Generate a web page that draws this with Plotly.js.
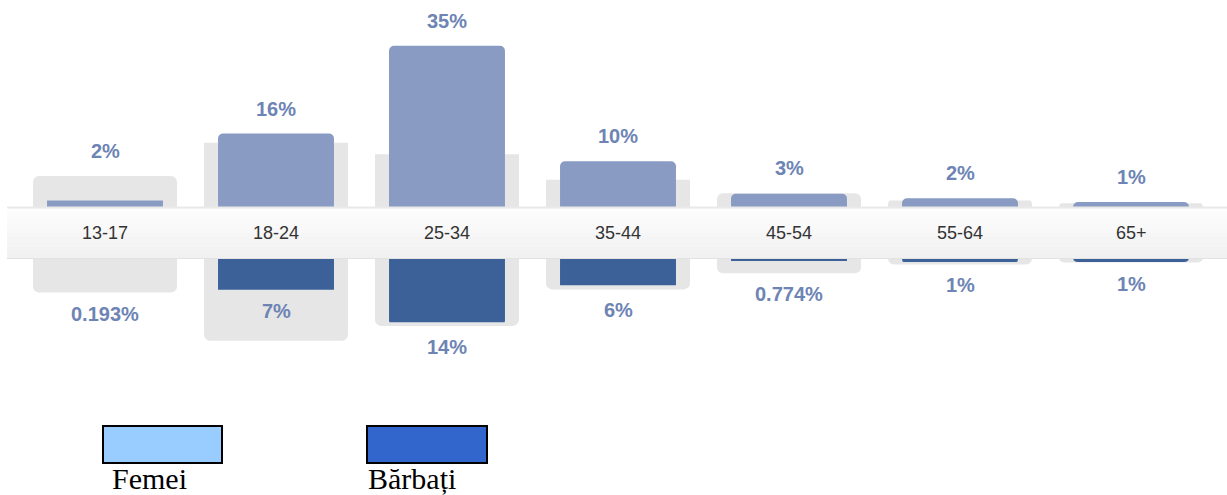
<!DOCTYPE html>
<html>
<head>
<meta charset="utf-8">
<script src="https://cdn.plot.ly/plotly-3.0.1.min.js"></script>
<style>
  html, body { margin: 0; padding: 0; background: #ffffff; }
  #chart { width: 1227px; height: 495px; }
</style>
</head>
<body>
<div id="chart"></div>
<script>
// ---- data ----
const categories = ['13-17', '18-24', '25-34', '35-44', '45-54', '55-64', '65+'];
const femei = [1.5, 16, 35, 10, 3, 2, 1.2];              // women, % (bars above the band)
const barbati = [0.193, 7, 14, 6, 0.774, 1, 1];           // men, % (bars below the band)
const femeiFundal = [6.8, 14.0, 11.5, 6.0, 3.1, 1.5, 0.9]; // grey background boxes, top side
const barbatiFundal = [7.6, 18.0, 14.8, 6.9, 3.4, 1.5, 1.1]; // grey background boxes, bottom side
const legendNames = ['Femei', 'Bărbați'];

// ---- geometry / style ----
const W = 1227, H = 495;
const PX_PER_PCT = 4.62;
const FEM_ZERO_PX = 207.5;
const MALE_ZERO_PX = 257.5;
const BAND_TOP = 207, BAND_BOT = 258.5, BAND_LEFT = 7;
const px2py = p => 1 - p / H;
const px2px = p => p / W;

const colFem = '#8a9bc3';
const colMale = '#3b6198';
const colGrey = '#e6e6e6';
const colLabel = '#6d84b4';

function fmt(v) {
  return (v < 1 ? v.toFixed(3) : String(Math.round(v))) + '%';
}

const traces = [
  { type: 'bar', x: categories, y: femeiFundal, yaxis: 'y', width: 0.842,
    marker: { color: colGrey, cornerradius: 6 }, hoverinfo: 'skip', showlegend: false },
  { type: 'bar', x: categories, y: barbatiFundal, yaxis: 'y2', width: 0.842,
    marker: { color: colGrey, cornerradius: 6 }, hoverinfo: 'skip', showlegend: false },
  { type: 'bar', x: categories, y: femei, yaxis: 'y', width: 0.678, name: legendNames[0],
    marker: { color: colFem, cornerradius: 5 }, hoverinfo: 'skip', showlegend: false },
  { type: 'bar', x: categories, y: barbati, yaxis: 'y2', width: 0.678, name: legendNames[1],
    marker: { color: colMale, cornerradius: 5 }, hoverinfo: 'skip', showlegend: false }
];

const shapes = [];
// the central band with a soft vertical gradient
const slices = 12;
for (let i = 0; i < slices; i++) {
  const t0 = BAND_TOP + (BAND_BOT - BAND_TOP) * i / slices;
  const t1 = BAND_TOP + (BAND_BOT - BAND_TOP) * (i + 1) / slices;
  const f = i / (slices - 1);
  const c = Math.round(253 - f * 12);
  shapes.push({ type: 'rect', xref: 'paper', yref: 'paper', layer: 'above',
    x0: px2px(BAND_LEFT), x1: 1, y0: px2py(t1) - 0.0005, y1: px2py(t0),
    fillcolor: `rgb(${c},${c},${c})`, line: { width: 0 } });
}
shapes.push({ type: 'line', xref: 'paper', yref: 'paper', layer: 'above',
  x0: px2px(BAND_LEFT), x1: 1, y0: px2py(BAND_TOP + 0.5), y1: px2py(BAND_TOP + 0.5),
  line: { color: '#e9e9e9', width: 2 } });
shapes.push({ type: 'line', xref: 'paper', yref: 'paper', layer: 'above',
  x0: px2px(BAND_LEFT), x1: 1, y0: px2py(BAND_BOT), y1: px2py(BAND_BOT),
  line: { color: '#e2e2e2', width: 1 } });

// legend boxes
const legendBoxes = [
  { x0: 103, x1: 222, fill: '#99ccff' },
  { x0: 367, x1: 487, fill: '#3366cc' }
];
legendBoxes.forEach(b => shapes.push({ type: 'rect', xref: 'paper', yref: 'paper', layer: 'above',
  x0: px2px(b.x0), x1: px2px(b.x1), y0: px2py(463), y1: px2py(426),
  fillcolor: b.fill, line: { color: '#000000', width: 2 } }));

const annotations = [];
categories.forEach((c, i) => {
  // category label in the band
  annotations.push({ x: c, xref: 'x', y: px2py((BAND_TOP + BAND_BOT) / 2), yref: 'paper',
    text: c, showarrow: false, yanchor: 'middle', xanchor: 'center',
    font: { family: 'Liberation Sans, Arial, sans-serif', size: 18, color: '#333333' } });
  // women label above
  const fa = (femeiFundal[i] > femei[i] && femeiFundal[i] - femei[i] < 10) ? femeiFundal[i] : femei[i];
  annotations.push({ x: c, xref: 'x', y: fa, yref: 'y', yshift: 25, yanchor: 'middle',
    text: fmt(femei[i]), showarrow: false,
    font: { family: 'Liberation Sans, Arial, sans-serif', size: 20, color: colLabel, weight: 'bold' } });
  // men label below
  const ma = (barbatiFundal[i] > barbati[i] && barbatiFundal[i] - barbati[i] < 10) ? barbatiFundal[i] : barbati[i];
  annotations.push({ x: c, xref: 'x', y: ma, yref: 'y2', yshift: -21, yanchor: 'middle',
    text: fmt(barbati[i]), showarrow: false,
    font: { family: 'Liberation Sans, Arial, sans-serif', size: 20, color: colLabel, weight: 'bold' } });
});
// legend texts
[[legendNames[0], 110], [legendNames[1], 366]].forEach(([t, x]) => {
  annotations.push({ xref: 'paper', yref: 'paper', x: px2px(x), y: px2py(478),
    xanchor: 'left', yanchor: 'middle', text: t, showarrow: false,
    font: { family: 'Liberation Serif, Times New Roman, serif', size: 30, color: '#000000' } });
});

const layout = {
  width: W, height: H,
  margin: { l: 0, r: 0, t: 0, b: 0 },
  paper_bgcolor: '#ffffff', plot_bgcolor: 'rgba(0,0,0,0)',
  barmode: 'overlay',
  showlegend: false,
  xaxis: { type: 'category', categoryorder: 'array', categoryarray: categories,
    range: [-105 / 171, -105 / 171 + W / 171], visible: false, fixedrange: true },
  yaxis: { domain: [px2py(FEM_ZERO_PX), 1], range: [0, FEM_ZERO_PX / PX_PER_PCT],
    visible: false, fixedrange: true },
  yaxis2: { domain: [0, px2py(MALE_ZERO_PX)], range: [(H - MALE_ZERO_PX) / PX_PER_PCT, 0],
    visible: false, fixedrange: true, anchor: 'x' },
  shapes: shapes,
  annotations: annotations
};

Plotly.newPlot('chart', traces, layout, { staticPlot: true, displayModeBar: false });
</script>
</body>
</html>
